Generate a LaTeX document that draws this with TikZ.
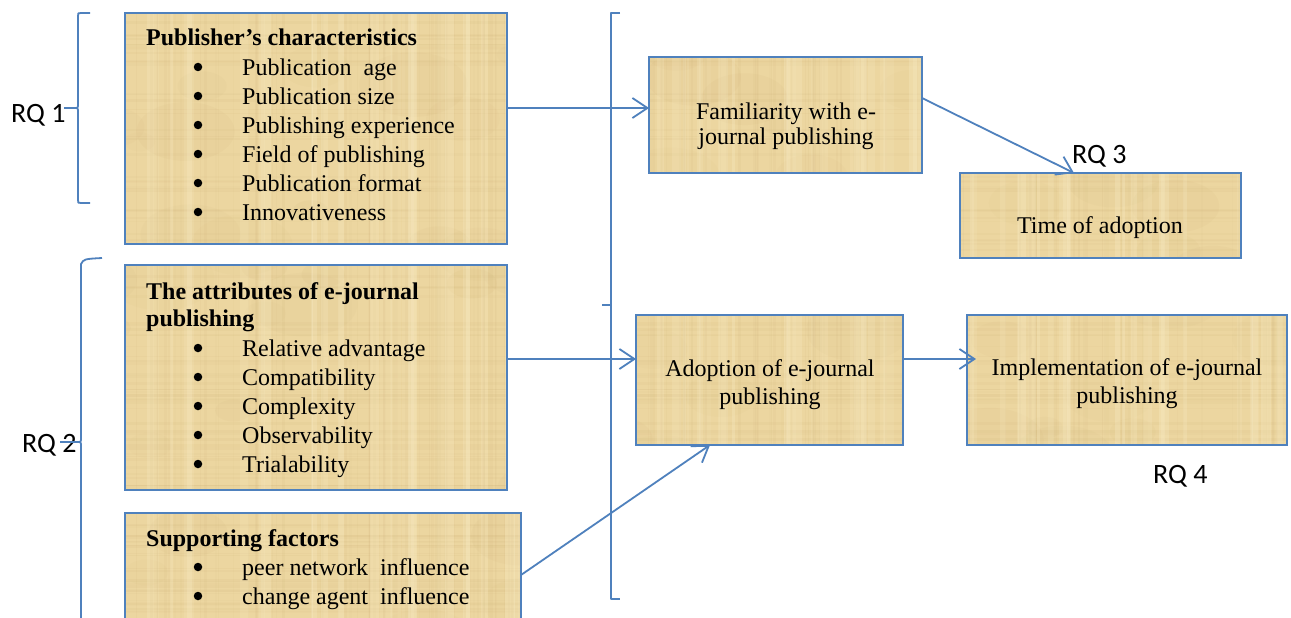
\documentclass[tikz,border=0pt]{standalone}
\usepackage{fontspec}
\setmainfont{Liberation Serif}
\newfontfamily\rqfont{Carlito}
\usetikzlibrary{arrows.meta,calc}
\definecolor{linkblue}{RGB}{79,129,189}
\definecolor{papyrus}{RGB}{236,214,160}
\definecolor{papdark}{RGB}{196,166,106}
\definecolor{paplight}{RGB}{250,238,200}
\tikzset{
  box/.style={rectangle, draw=none, fill=papyrus, inner sep=0pt, outer sep=0pt},
  boxline/.style={draw=linkblue, line width=1.8pt},
  link/.style={draw=linkblue, line width=1.8pt,
    -{Straight Barb[length=15pt,width=20pt,line width=1.8pt]}},
  brace/.style={draw=linkblue, line width=1.8pt, line join=round},
  txt/.style={font=\fontsize{24}{29}\selectfont, inner sep=0pt, anchor=base west},
  ctxt/.style={font=\fontsize{24}{29}\selectfont, inner sep=0pt, anchor=base},
  bul/.style={circle, fill=black, draw=none, inner sep=0pt, minimum size=8.5pt},
  rq/.style={font=\rqfont\fontsize{28}{32}\selectfont, inner sep=0pt, anchor=base west}
}
\begin{document}
\begin{tikzpicture}[x=1pt,y=-1pt]
\path[use as bounding box, clip] (0,0) rectangle (1291,618);
\fill[white] (0,0) rectangle (1291,618);

% boxes
\node[box, minimum width=382pt, minimum height=231pt] (pub)   at (316,128.5) {};
\node[box, minimum width=382pt, minimum height=225pt] (attr)  at (316,377.5) {};
\node[box, minimum width=396pt, minimum height=127pt] (supp)  at (323,576.5) {};
\node[box, minimum width=273pt, minimum height=116pt] (fam)   at (785.5,115) {};
\node[box, minimum width=281pt, minimum height=85pt]  (time)  at (1100.5,215.5) {};
\node[box, minimum width=267pt, minimum height=130pt] (adopt) at (769.5,380) {};
\node[box, minimum width=320pt, minimum height=130pt] (impl)  at (1127,380) {};

% papyrus grain inside the boxes
\begin{scope}
  \clip (pub.south west) rectangle (pub.north east)
        (attr.south west) rectangle (attr.north east)
        (supp.south west) rectangle (supp.north east)
        (fam.south west) rectangle (fam.north east)
        (time.south west) rectangle (time.north east)
        (adopt.south west) rectangle (adopt.north east)
        (impl.south west) rectangle (impl.north east);
  \pgfmathsetseed{42}
  \foreach \i in {1,...,90} {
    \pgfmathsetmacro\xx{rnd*1291}
    \pgfmathsetmacro\yy{rnd*640}
    \pgfmathsetmacro\rr{15+40*rnd}
    \pgfmathsetmacro\oo{0.03+0.05*rnd}
    \fill[papdark, opacity=\oo] (\xx,\yy) ellipse [x radius=\rr pt, y radius=0.6*\rr pt];
  }
  \foreach \i in {1,...,200} {
    \pgfmathsetmacro\xx{rnd*1291}
    \pgfmathsetmacro\ww{0.6+2.5*rnd}
    \pgfmathsetmacro\oo{0.03+0.06*rnd}
    \fill[papdark, opacity=\oo] (\xx,0) rectangle ++(\ww,640);
  }
  \foreach \i in {1,...,130} {
    \pgfmathsetmacro\yy{rnd*640}
    \pgfmathsetmacro\hh{0.6+2.5*rnd}
    \pgfmathsetmacro\oo{0.03+0.06*rnd}
    \fill[papdark, opacity=\oo] (0,\yy) rectangle ++(1291,\hh);
  }
  \foreach \i in {1,...,100} {
    \pgfmathsetmacro\xx{rnd*1291}
    \pgfmathsetmacro\ww{2+8*rnd}
    \pgfmathsetmacro\oo{0.10+0.20*rnd}
    \fill[paplight, opacity=\oo] (\xx,0) rectangle ++(\ww,640);
  }
\end{scope}

% box outlines
\foreach \b in {pub,attr,supp,fam,time,adopt,impl}
  \draw[boxline] (\b.south west) rectangle (\b.north east);

% publisher's characteristics
\node[txt] (pubh) at (146,46) {\bfseries Publisher’s characteristics};
\foreach \t [count=\i] in {Publication\ \ age,Publication size,Publishing experience,Field of publishing,Publication format,Innovativeness} {
  \node[bul] (pubb\i) at (198,38+29*\i) {};
  \node[txt] (pubi\i) at (242,46+29*\i) {\t};
}

% attributes of e-journal publishing
\node[txt] (attrh1) at (146,299) {\bfseries The attributes of e-journal};
\node[txt] (attrh2) at (146,326) {\bfseries publishing};
\foreach \t [count=\i] in {Relative advantage,Compatibility,Complexity,Observability,Trialability} {
  \node[bul] (attrb\i) at (198,319+29*\i) {};
  \node[txt] (attri\i) at (242,327+29*\i) {\t};
}

% supporting factors
\node[txt] (supph) at (146,546) {\bfseries Supporting factors};
\node[bul] (suppb1) at (198,567) {};
\node[txt] (suppi1) at (242,575) {peer network\ \ influence};
\node[bul] (suppb2) at (198,596) {};
\node[txt] (suppi2) at (242,604) {change agent\ \ influence};

% outcome boxes
\node[ctxt] (famt1) at (786,119) {Familiarity with e-};
\node[ctxt] (famt2) at (786,144) {journal publishing};
\node[ctxt] (timet) at (1100,233) {Time of adoption};
\node[ctxt] (adoptt1) at (770,376) {Adoption of e-journal};
\node[ctxt] (adoptt2) at (770,404) {publishing};
\node[ctxt] (implt1) at (1127,375) {Implementation of e-journal};
\node[ctxt] (implt2) at (1127,403) {publishing};

% research question labels
\node[rq] (rq1) at (11,122) {RQ 1};
\node[rq] (rq2) at (22,452) {RQ 2};
\node[rq] (rq3) at (1072,163) {RQ 3};
\node[rq] (rq4) at (1153,483) {RQ 4};

% braces
\draw[brace] (90,13) -- (81,13) .. controls (78,13) .. (78,16) -- (78,104)
  .. controls (78,108) .. (74,108) .. controls (78,108) .. (78,112) -- (78,200)
  .. controls (78,203) .. (81,203) -- (90,203);
\draw[brace] (64,108) -- (74,108);
\draw[brace] (102,258) .. controls (84,259) .. (81,264) -- (81,438)
  .. controls (81,442) .. (77,442) .. controls (81,442) .. (81,446) -- (81,630);
\draw[brace] (60,442) -- (77,442);
\draw[brace] (620,13) -- (611,13) -- (611,599) -- (620,599);
\draw[brace] (602,305) -- (611,305);

% connectors
\coordinate (pubout) at ($(pub.north east)+(0,95)$);
\draw[link] (pubout) -- (pubout -| fam.west);
\coordinate (attrout) at ($(attr.north east)+(0,94)$);
\draw[link] (attrout) -- (attrout -| adopt.west);
\draw[link] ($(supp.north east)+(0,62)$) -- ($(adopt.south west)+(74,0)$);
\draw[link] ($(fam.north east)+(0,41)$) -- ($(time.north west)+(114,0)$);
\draw[link] ($(adopt.north east)+(0,44)$) -- ($(impl.north west)+(9,44)$);
\end{tikzpicture}
\end{document}
